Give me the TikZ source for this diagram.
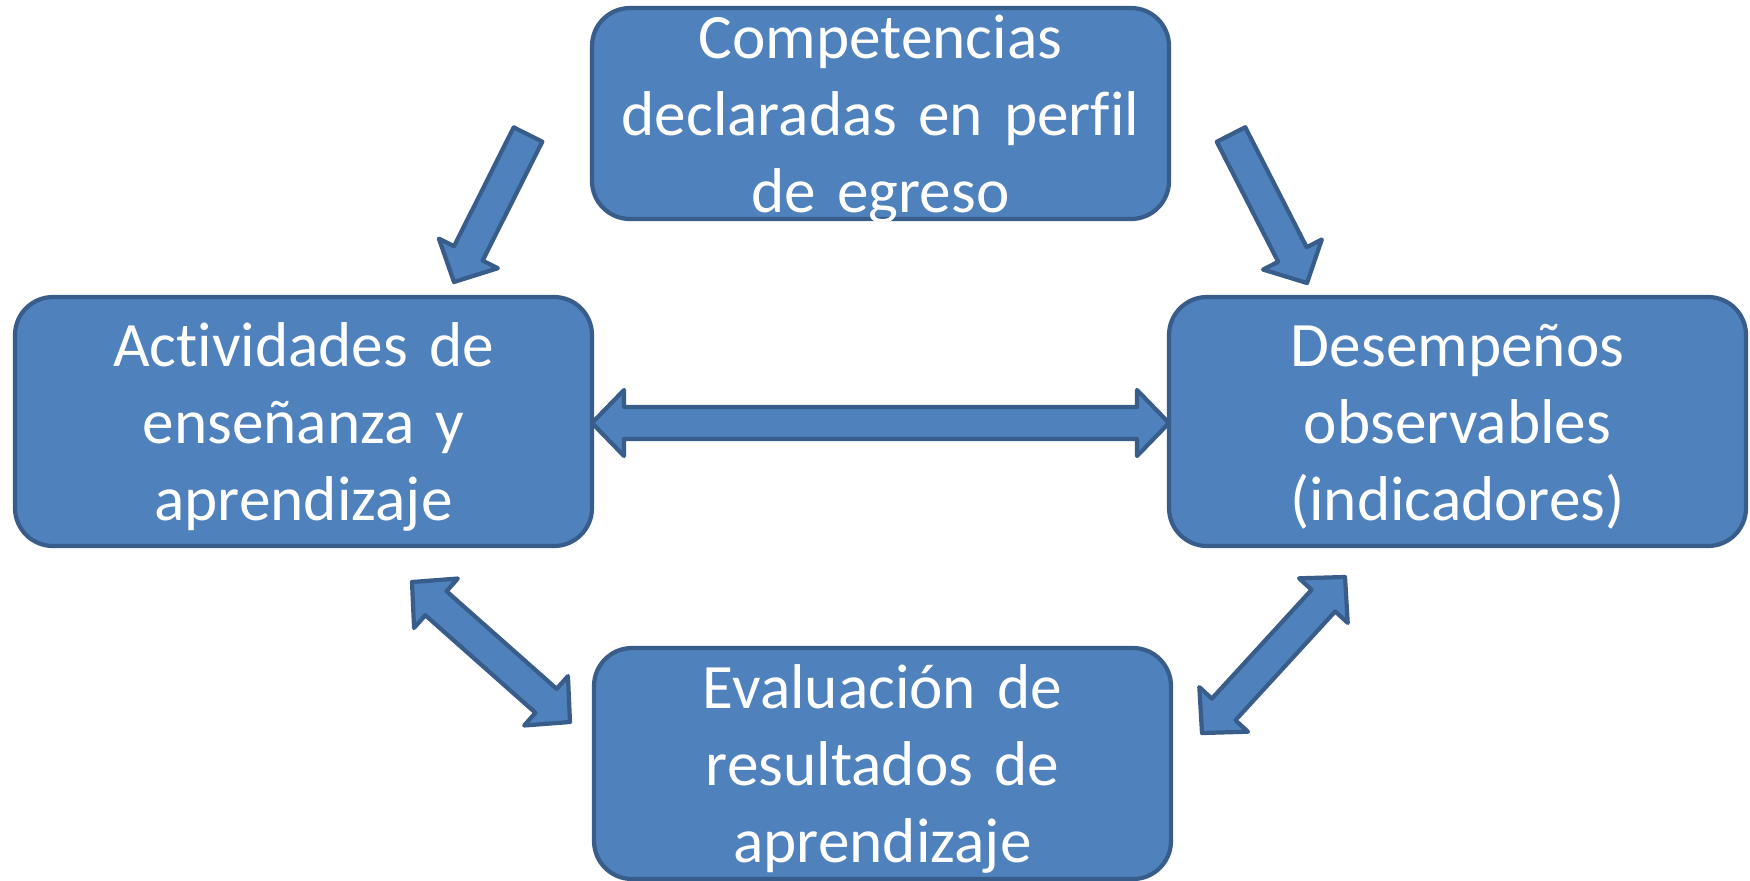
\documentclass[tikz,border=0pt]{standalone}
\usepackage{fontspec}
\setmainfont{Carlito}[Ligatures=NoCommon]
\usepackage{xcolor}
\usepackage{tikz}
\usetikzlibrary{positioning, calc}
\definecolor{boxblue}{HTML}{4F81BD}
\definecolor{boxline}{HTML}{385D8A}
\newcommand{\blkW}{0.16cm}
\newcommand{\blkH}{0.33cm}
\newcommand{\blkL}{0.32cm}
\tikzstyle{block} = [rectangle, draw=boxline, fill=boxblue, line width=1.2pt,
    rounded corners=0.38cm, minimum width=5.77cm, inner sep=0pt, outer sep=0pt,
    text width=5.6cm, align=center, text=white,
    font=\fontsize{18}{21.9}\selectfont, text height=14pt, text depth=45.3pt]
\tikzstyle{onearrow} = [draw=boxline, fill=boxblue, line width=1.2pt, line join=round,
    to path={($(\tikztostart)!\blkW!90:(\tikztotarget)$)
      -- ($($(\tikztotarget)!\blkL!(\tikztostart)$)!\blkW!90:(\tikztotarget)$)
      -- ($($(\tikztotarget)!\blkL!(\tikztostart)$)!\blkH!90:(\tikztotarget)$)
      -- (\tikztotarget)
      -- ($($(\tikztotarget)!\blkL!(\tikztostart)$)!\blkH!-90:(\tikztotarget)$)
      -- ($($(\tikztotarget)!\blkL!(\tikztostart)$)!\blkW!-90:(\tikztotarget)$)
      -- ($(\tikztostart)!\blkW!-90:(\tikztotarget)$) -- cycle}]
\tikzstyle{twoarrow} = [draw=boxline, fill=boxblue, line width=1.2pt, line join=round,
    to path={-- ($($(\tikztostart)!\blkL!(\tikztotarget)$)!\blkH!90:(\tikztotarget)$)
      -- ($($(\tikztostart)!\blkL!(\tikztotarget)$)!\blkW!90:(\tikztotarget)$)
      -- ($($(\tikztotarget)!\blkL!(\tikztostart)$)!\blkW!90:(\tikztotarget)$)
      -- ($($(\tikztotarget)!\blkL!(\tikztostart)$)!\blkH!90:(\tikztotarget)$)
      -- (\tikztotarget)
      -- ($($(\tikztotarget)!\blkL!(\tikztostart)$)!\blkH!-90:(\tikztotarget)$)
      -- ($($(\tikztotarget)!\blkL!(\tikztostart)$)!\blkW!-90:(\tikztotarget)$)
      -- ($($(\tikztostart)!\blkL!(\tikztotarget)$)!\blkW!-90:(\tikztotarget)$)
      -- ($($(\tikztostart)!\blkL!(\tikztotarget)$)!\blkH!-90:(\tikztotarget)$)
      -- cycle}]

\begin{document}
\begin{tikzpicture}[node distance = 0.78cm, auto]
    \useasboundingbox (0,0) rectangle (17.5,-8.8);

    % Place nodes
    \node [block, minimum height=2.11cm] (Competencias) at (8.805,-1.135) {Competencias\\ declaradas en perfil\\ de egreso};
    \node [block, minimum height=2.49cm, below left=0.78cm and 0cm of Competencias] (Actividades) {Actividades de\\ enseñanza y\\ aprendizaje};
    \node [block, minimum height=2.49cm, below right=0.78cm and 0cm of Competencias] (Desempenos) {Desempeños\\ observables\\ (indicadores)};
    \node [block, minimum height=2.31cm, below right=1.02cm and 0.02cm of Actividades] (Evaluacion) {Evaluación de\\ resultados de\\ aprendizaje};

    % Arrow ends
    \coordinate (CompL) at ($(Competencias.west)+(-0.64,-0.21)$);
    \coordinate (ActN) at ($(Actividades.north east)+(-1.38,0.15)$);
    \coordinate (CompR) at ($(Competencias.east)+(0.62,-0.21)$);
    \coordinate (DesN) at ($(Desempenos.north west)+(1.38,0.14)$);
    \coordinate (ActE) at ($(Actividades.east)+(0,-0.015)$);
    \coordinate (DesW) at ($(Desempenos.west)+(0,-0.015)$);
    \coordinate (ActS) at ($(Actividades.south east)+(-1.80,-0.36)$);
    \coordinate (EvaW) at ($(Evaluacion.west)+(-0.24,0.415)$);
    \coordinate (DesS) at ($(Desempenos.south west)+(1.76,-0.31)$);
    \coordinate (EvaE) at ($(Evaluacion.east)+(0.31,0.305)$);

    \draw [onearrow] (CompL) to (ActN);
    \draw [onearrow] (CompR) to (DesN);
    \draw [twoarrow] (ActE) to (DesW);
    \draw [twoarrow] (ActS) to (EvaW);
    \draw [twoarrow] (DesS) to (EvaE);

\end{tikzpicture}
\end{document}
